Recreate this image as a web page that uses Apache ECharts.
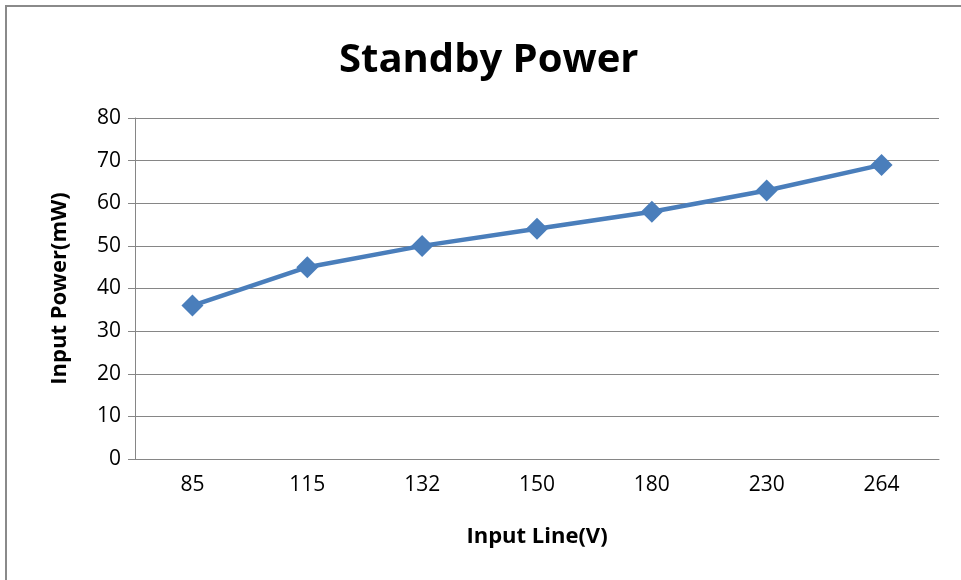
<!DOCTYPE html>
<html><head><meta charset="utf-8">
<script src="https://cdn.jsdelivr.net/npm/echarts@6/dist/echarts.min.js"></script>
<style>html,body{margin:0;padding:0;background:#fff}#c{width:961px;height:580px}
#frame{position:absolute;left:5px;top:5px;width:1000px;height:1000px;border:2px solid #8a8a8a;box-sizing:border-box;pointer-events:none}</style>
</head><body>
<div id="c"></div>
<div id="frame"></div>
<script>
const categories = ['85','115','132','150','180','230','264'];
const standbyPower = [36, 45, 50, 54, 58, 63, 69];
const yTicks = {min: 0, max: 80, interval: 10};
const titleText = 'Standby Power';
const xName = 'Input Line(V)';
const yName = 'Input Power(mW)';

const font = '"Open Sans", sans-serif';
const chart = echarts.init(document.getElementById('c'), null, {renderer: 'canvas'});
chart.setOption({
  animation: false,
  backgroundColor: '#fff',
  title: {text: titleText, left: 334, top: 36,
    textStyle: {fontFamily: font, fontWeight: 'bold', fontSize: 40, color: '#000'}},
  grid: {left: 135, right: 22, top: 118, bottom: 121},
  xAxis: {type: 'category', data: categories, boundaryGap: true,
    name: xName, nameLocation: 'middle', nameGap: 67,
    nameTextStyle: {fontFamily: font, fontWeight: 'bold', fontSize: 22, color: '#000'},
    axisLine: {lineStyle: {color: '#868686', width: 1}},
    axisTick: {show: false},
    axisLabel: {fontFamily: font, fontSize: 21, color: '#000', margin: 16}},
  yAxis: {type: 'value', min: yTicks.min, max: yTicks.max, interval: yTicks.interval,
    name: yName, nameLocation: 'middle', nameGap: 64, nameRotate: 90,
    nameTextStyle: {fontFamily: font, fontWeight: 'bold', fontSize: 22, color: '#000'},
    axisLine: {show: true, lineStyle: {color: '#868686', width: 1}},
    axisTick: {show: true, length: 7, lineStyle: {color: '#868686'}},
    splitLine: {lineStyle: {color: '#868686', width: 1}},
    axisLabel: {fontFamily: font, fontSize: 21, color: '#000', margin: 14}},
  series: [{type: 'line', data: standbyPower, symbol: 'diamond', symbolSize: 22,
    lineStyle: {color: '#4A7EBB', width: 4.5},
    itemStyle: {color: '#4A7EBB'}}]
});
</script>
</body></html>
